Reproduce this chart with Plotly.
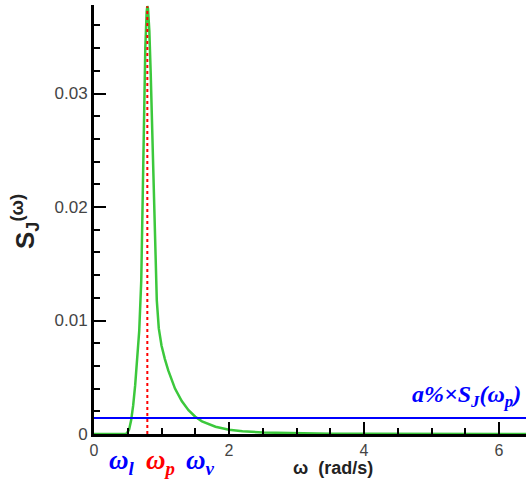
import plotly.graph_objects as go

# Spectrum values
omega = [0.0, 0.47, 0.49, 0.52, 0.55, 0.58, 0.61, 0.64, 0.67, 0.70, 0.72, 0.74,
         0.76, 0.78, 0.79, 0.80, 0.82, 0.84, 0.86, 0.88, 0.90, 0.93, 0.96, 1.00,
         1.05, 1.10, 1.20, 1.30, 1.40, 1.50, 1.60, 1.80, 2.00, 2.20, 2.50, 3.00,
         3.50, 4.00, 5.00, 6.00, 6.40]
s_j = [0.0, 0.0, 0.0001, 0.0004, 0.0012, 0.0025, 0.0043, 0.0064, 0.0091, 0.0135,
       0.0205, 0.0280, 0.0340, 0.0372, 0.0377, 0.0375, 0.0355, 0.0318, 0.0270,
       0.0220, 0.0170, 0.0118, 0.0093, 0.0078, 0.0066, 0.0056, 0.0040, 0.0029,
       0.0021, 0.00152, 0.00112, 0.00064, 0.00038, 0.00024, 0.00013, 0.00005,
       0.000023, 0.000012, 0.000004, 0.0000016, 0.0000011]

omega_p = 0.79
s_peak = 0.0377
threshold = 0.0014          # a% x S_J(omega_p)
x_range = [0, 6.4]
y_range = [0, 0.0378]
x_ticks = [0, 2, 4, 6]
x_tick_labels = ["0", "2", "4", "6"]
y_ticks = [0, 0.01, 0.02, 0.03]
y_tick_labels = ["0", "0.01", "0.02", "0.03"]

fig = go.Figure()
fig.add_trace(go.Scatter(x=omega, y=s_j, mode="lines",
                         line=dict(color="#3cc83c", width=2.5), showlegend=False))
fig.add_trace(go.Scatter(x=x_range, y=[threshold, threshold], mode="lines",
                         line=dict(color="#0000ff", width=2), showlegend=False))
fig.add_trace(go.Scatter(x=[omega_p, omega_p], y=[0, s_peak], mode="lines",
                         line=dict(color="#ff0000", width=2, dash="dot"), showlegend=False))

W, H = 526, 481
L, R, T, B = 94, 0, 5, 47
pw, ph = W - L - R, H - T - B


def px(xp):
    return (xp - L) / pw


def py(yp):
    return (H - B - yp) / ph


common = dict(showline=True, linewidth=3, linecolor="black", mirror=False,
              showgrid=False, zeroline=False, ticks="inside", ticklen=12,
              tickwidth=2, tickcolor="black", automargin=False)

fig.update_layout(
    width=W, height=H, margin=dict(l=L, r=R, t=T, b=B),
    paper_bgcolor="white", plot_bgcolor="white",
    xaxis=dict(range=x_range, tickvals=x_ticks, ticktext=x_tick_labels,
               ticklabelstandoff=0,
               tickfont=dict(family="Arial, Liberation Sans", size=16, color="#444444"),
               minor=dict(ticks="inside", ticklen=6, tickwidth=1.5, dtick=0.5,
                          tickcolor="black"),
               **common),
    yaxis=dict(range=y_range, tickvals=y_ticks, ticktext=y_tick_labels,
               tickfont=dict(family="Arial, Liberation Sans", size=17, color="#444444"),
               minor=dict(ticks="inside", ticklen=6, tickwidth=1.5, dtick=0.002,
                          tickcolor="black"),
               **common),
)

serif = "Liberation Serif, Times New Roman, serif"
ann = []
ann.append(dict(x=px(25), y=py(222), xref="paper", yref="paper", textangle=-90,
                xanchor="center", yanchor="middle",
                text="<b>S<sub>J</sub><sup>(ω)</sup></b>", showarrow=False,
                font=dict(family="Arial, Liberation Sans", size=26, color="#222")))
ann.append(dict(x=px(333), y=py(468), xref="paper", yref="paper",
                xanchor="center", yanchor="middle",
                text="<b>ω  (rad/s)</b>", showarrow=False,
                font=dict(family="Arial, Liberation Sans", size=18, color="#222")))
ann.append(dict(x=px(107), y=py(462), xref="paper", yref="paper", xanchor="left",
                yanchor="middle",
                text="<b><i>ω<sub>l</sub></i></b>", showarrow=False,
                font=dict(family=serif, size=27, color="#0000ff")))
ann.append(dict(x=px(144), y=py(462), xref="paper", yref="paper", xanchor="left",
                yanchor="middle",
                text="<b><i>ω<sub>p</sub></i></b>", showarrow=False,
                font=dict(family=serif, size=27, color="#ff0000")))
ann.append(dict(x=px(184), y=py(462), xref="paper", yref="paper", xanchor="left",
                yanchor="middle",
                text="<b><i>ω<sub>v</sub></i></b>", showarrow=False,
                font=dict(family=serif, size=27, color="#0000ff")))
ann.append(dict(x=px(466), y=py(396), xref="paper", yref="paper",
                xanchor="center", yanchor="middle",
                text="<b><i>a%×S<sub>J</sub>(ω<sub>p</sub>)</i></b>", showarrow=False,
                font=dict(family=serif, size=24, color="#0000ff")))
fig.update_layout(annotations=ann)

fig.write_html("out.html", config={"displayModeBar": False},
               post_script="document.body.style.margin='0px';")
